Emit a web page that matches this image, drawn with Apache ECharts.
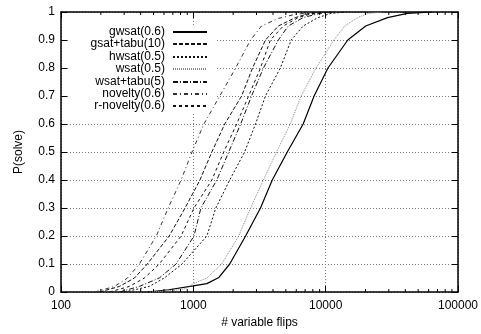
<!DOCTYPE html>
<html>
<head>
<meta charset="utf-8">
<script src="https://cdn.jsdelivr.net/npm/echarts@6/dist/echarts.min.js"></script>
<style>
  html, body { margin: 0; padding: 0; background: #fff; }
  #chart { width: 481px; height: 334px; }
</style>
</head>
<body>
<div id="chart"></div>
<script>
// run-length distributions, [variable flips, P(solve)]
const seriesNames = ["gwsat(0.6)", "gsat+tabu(10)", "hwsat(0.5)", "wsat(0.5)", "wsat+tabu(5)", "novelty(0.6)", "r-novelty(0.6)"];

const gwsat = [[450, 0], [650, 0.008], [1000, 0.022], [1266, 0.03], [1560, 0.052], [1884, 0.1], [2483, 0.2], [3218, 0.3], [3950, 0.4], [5129, 0.5], [6761, 0.6], [8180, 0.7], [10411, 0.8], [14705, 0.9], [20068, 0.95], [29343, 0.98], [41448, 0.995], [63826, 1]];
const gsatTabu = [[196, 0], [277, 0.02], [359, 0.05], [449, 0.1], [657, 0.2], [866, 0.3], [1122, 0.4], [1380, 0.5], [1728, 0.6], [2317, 0.7], [2803, 0.8], [3508, 0.9], [4390, 0.95], [5900, 0.98], [7500, 0.995], [10000, 1]];
const hwsat = [[302, 0], [465, 0.02], [603, 0.05], [822, 0.1], [1266, 0.2], [1479, 0.3], [1884, 0.4], [2441, 0.5], [2951, 0.6], [3508, 0.7], [4545, 0.8], [5495, 0.9], [6761, 0.95], [8760, 0.98], [11000, 0.995], [14000, 1]];
const wsat = [[470, 0], [700, 0.005], [875, 0.012], [1000, 0.03], [1266, 0.05], [1640, 0.1], [2200, 0.2], [2708, 0.3], [3388, 0.4], [4250, 0.5], [5402, 0.6], [6531, 0.7], [8462, 0.8], [11548, 0.9], [13900, 0.95], [17483, 0.98], [20900, 0.995], [27000, 1]];
const wsatTabu = [[277, 0], [391, 0.02], [553, 0.05], [741, 0.1], [1012, 0.2], [1141, 0.3], [1505, 0.4], [1851, 0.5], [2279, 0.6], [2754, 0.7], [3388, 0.8], [4390, 0.9], [5218, 0.95], [6761, 0.98], [9000, 0.995], [12000, 1]];
const novelty = [[180, 0], [254, 0.02], [318, 0.05], [391, 0.1], [525, 0.2], [646, 0.3], [808, 0.4], [977, 0.5], [1202, 0.6], [1585, 0.7], [2089, 0.8], [2708, 0.9], [3273, 0.95], [4390, 0.977], [5689, 0.99], [7000, 0.996], [9500, 1]];
const rNovelty = [[233, 0], [329, 0.02], [427, 0.05], [553, 0.1], [808, 0.2], [1012, 0.3], [1380, 0.4], [1698, 0.5], [2126, 0.6], [2616, 0.7], [3218, 0.8], [3824, 0.9], [4786, 0.95], [6202, 0.98], [8000, 0.995], [11000, 1]];

const minorTicks = [200, 300, 400, 500, 600, 700, 800, 900, 2000, 3000, 4000, 5000, 6000, 7000, 8000, 9000, 20000, 30000, 40000, 50000, 60000, 70000, 80000, 90000];

const seriesData = [gwsat, gsatTabu, hwsat, wsat, wsatTabu, novelty, rNovelty];
const lineStyles = [
  { color: "#000", width: 1.2, type: "solid" },
  { color: "#111", width: 1, type: [4, 2] },
  { color: "#111", width: 1, type: [2, 2] },
  { color: "#888", width: 1, type: [1, 1] },
  { color: "#111", width: 1, type: [5, 2, 1, 2] },
  { color: "#333", width: 1, type: [4, 3, 1, 3] },
  { color: "#111", width: 1, type: [3, 3] },
];

const font = "'Liberation Sans', Arial, Helvetica, sans-serif";
const chart = echarts.init(document.getElementById("chart"), null, { renderer: "canvas" });

const tickStyle = { show: true, inside: true, length: 6, lineStyle: { color: "#000", width: 1 } };
const borderLine = { show: true, onZero: false, lineStyle: { color: "#000", width: 1.5 } };
const gridDots = { show: true, lineStyle: { color: "#777", width: 1, type: [1, 2] } };

const option = {
  animation: false,
  backgroundColor: "#fff",
  textStyle: { fontFamily: font },
  grid: { left: 61, right: 21, top: 12, bottom: 41 },
  graphic: [{
    // opaque key box, as in gnuplot
    type: "rect", left: 68, top: 25, z: 1, silent: true,
    shape: { width: 149, height: 88 },
    style: { fill: "#fff" },
  }],
  legend: seriesNames.map((name, i) => ({
    data: [name],
    right: 273,
    top: Math.round(26 + i * 12.4),
    align: "right",
    padding: 0,
    itemWidth: 34,
    itemHeight: 11,
    selectedMode: false,
    itemStyle: { opacity: 0 },
    textStyle: { fontFamily: font, fontSize: 12, color: "#000", padding: [0, 3, 0, 0] },
  })),
  xAxis: [
    {
      type: "log", logBase: 10, min: 100, max: 100000, position: "bottom",
      axisLine: borderLine, axisTick: tickStyle,
      axisLabel: { color: "#000", fontSize: 12, fontFamily: font, margin: 8, formatter: (v) => String(Math.round(v)) },
      splitLine: gridDots,
      name: "# variable flips", nameLocation: "middle", nameGap: 25,
      nameTextStyle: { color: "#000", fontSize: 12, fontFamily: font },
    },
    {
      type: "log", logBase: 10, min: 100, max: 100000, position: "top",
      axisLine: borderLine, axisTick: tickStyle, axisLabel: { show: false }, splitLine: { show: false },
    },
  ],
  yAxis: [
    {
      type: "value", min: 0, max: 1, interval: 0.1, position: "left",
      axisLine: borderLine, axisTick: tickStyle,
      axisLabel: { color: "#000", fontSize: 12, fontFamily: font, margin: 6 },
      splitLine: gridDots,
      name: "P(solve)", nameLocation: "middle", nameGap: 36, nameRotate: 90,
      nameTextStyle: { color: "#000", fontSize: 12, fontFamily: font },
    },
    {
      type: "value", min: 0, max: 1, interval: 0.1, position: "right",
      axisLine: borderLine, axisTick: tickStyle, axisLabel: { show: false }, splitLine: { show: false },
    },
  ],
  series: seriesNames.map((name, i) => ({
    name,
    type: "line",
    xAxisIndex: 0,
    yAxisIndex: 0,
    data: seriesData[i],
    symbol: "none",
    showSymbol: false,
    color: lineStyles[i].color,
    lineStyle: lineStyles[i],
    z: 2,
  })).concat([{
    type: "custom",
    xAxisIndex: 0,
    yAxisIndex: 0,
    silent: true,
    z: 3,
    data: minorTicks.map((v) => [v, 0]),
    renderItem: (params, api) => {
      const b = api.coord([api.value(0), 0]);
      const t = api.coord([api.value(0), 1]);
      const st = { stroke: "#000", lineWidth: 1 };
      return {
        type: "group",
        children: [
          { type: "line", shape: { x1: b[0], y1: b[1], x2: b[0], y2: b[1] - 3 }, style: st },
          { type: "line", shape: { x1: t[0], y1: t[1], x2: t[0], y2: t[1] + 3 }, style: st },
        ],
      };
    },
  }]),
};

chart.setOption(option);
</script>
</body>
</html>
